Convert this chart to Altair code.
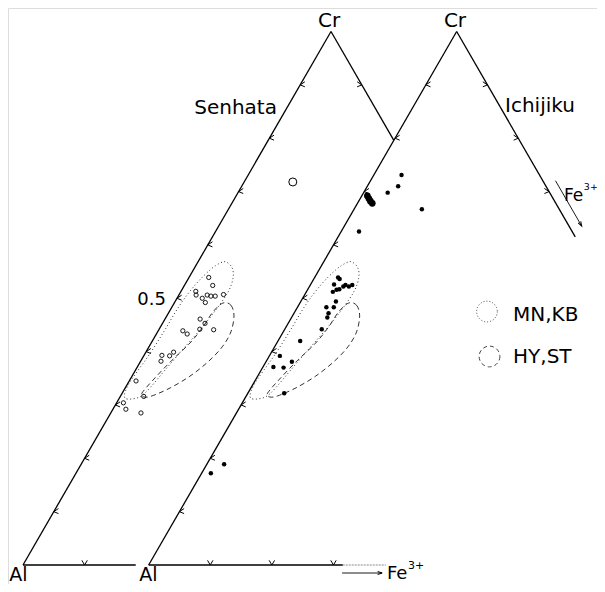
import altair as alt
import pandas as pd
import numpy as np

H = np.sqrt(3) / 2          # height of unit equilateral triangle
OFF = 0.204                 # shift of the Ichijiku triangle along Al-Fe

# ---------------- data (Cr and Fe3+ fractions) ----------------
# Senhata analyses (open circles)
sen_cr = [0.539, 0.524, 0.513, 0.506, 0.500, 0.506, 0.504, 0.504, 0.507, 0.492,
          0.461, 0.453, 0.442, 0.441, 0.439, 0.433, 0.399, 0.392, 0.393, 0.382,
          0.345, 0.316, 0.304, 0.292, 0.285]
sen_fe = [0.032, 0.046, 0.024, 0.028, 0.041, 0.046, 0.053, 0.060, 0.072, 0.050,
          0.057, 0.069, 0.066, 0.089, 0.040, 0.050, 0.045, 0.042, 0.029, 0.033,
          0.011, 0.038, 0.011, 0.021, 0.049]
sen_big_cr = [0.718]
sen_big_fe = [0.079]

# Ichijiku analyses (filled circles)
ichi_cr = [0.731, 0.710, 0.698, 0.667, 0.625, 0.539, 0.536, 0.526,
           0.512, 0.516, 0.517, 0.522, 0.525, 0.522, 0.525,
           0.494, 0.483, 0.483, 0.472, 0.464, 0.442,
           0.420, 0.392, 0.381, 0.371, 0.370, 0.322, 0.189, 0.172]
ichi_fe = [0.045, 0.050, 0.039, 0.110, 0.029, 0.038, 0.042, 0.038,
           0.043, 0.047, 0.051, 0.055, 0.057, 0.064, 0.068,
           0.057, 0.047, 0.059, 0.056, 0.058, 0.060,
           0.036, 0.017, 0.042, 0.017, 0.034, 0.059, 0.028, 0.015]
ichi_blob_cr = [0.692, 0.687, 0.682, 0.678]
ichi_blob_fe = [0.009, 0.014, 0.019, 0.024]

# Field outlines
mnkb_cr = [0.568, 0.557, 0.538, 0.512, 0.478, 0.441, 0.403, 0.366, 0.332, 0.315,
           0.311, 0.317, 0.337, 0.362, 0.397, 0.441, 0.487, 0.525, 0.553, 0.566]
mnkb_fe = [0.046, 0.061, 0.072, 0.077, 0.074, 0.067, 0.057, 0.048, 0.040, 0.032,
           0.015, 0.006, 0.002, 0.004, 0.008, 0.010, 0.011, 0.017, 0.027, 0.037]
hyst_cr = [0.491, 0.487, 0.467, 0.437, 0.409, 0.381, 0.354, 0.332, 0.317, 0.315,
           0.322, 0.351, 0.384, 0.416, 0.446, 0.474]
hyst_fe = [0.079, 0.094, 0.109, 0.119, 0.119, 0.110, 0.094, 0.073, 0.051, 0.039,
           0.032, 0.039, 0.050, 0.063, 0.069, 0.071]

# tick values
left_ticks = [0.1, 0.2, 0.3, 0.4, 0.5, 0.6, 0.7, 0.8, 0.9]
right_ticks_sen = [0.9]
right_ticks_ichi = [0.9, 0.8, 0.7]
base_ticks_sen = [0.1]
base_ticks_ichi = [0.1, 0.2, 0.3]


def tx(cr, fe, off):
    return off + fe + cr / 2.0


def ty(cr):
    return cr * H


# ---------------- scales ----------------
PX = 616.0
W, HT = 589, 576
xmin = -15 / PX
xmax = xmin + W / PX
ymax = 557 / PX
ymin = ymax - HT / PX
xs = alt.Scale(domain=[xmin, xmax], nice=False, zero=False)
ys = alt.Scale(domain=[ymin, ymax], nice=False, zero=False)
X = lambda f="x": alt.X(f"{f}:Q", scale=xs, axis=None)
Y = lambda f="y": alt.Y(f"{f}:Q", scale=ys, axis=None)

# ---------------- edges ----------------
edge_defs = [
    # off, cr1, fe1, cr2, fe2, kind
    (0.0, 0.0, 0.0, 1.0, 0.0, "main"),
    (0.0, 1.0, 0.0, 1 - OFF, OFF, "main"),
    (0.0, 0.0, 0.0, 0.0, 0.183, "main"),
    (OFF, 0.0, 0.0, 1.0, 0.0, "main"),
    (OFF, 1.0, 0.0, 0.615, 0.385, "main"),
    (OFF, 0.0, 0.0, 0.0, 0.315, "main"),
    (OFF, 0.0, 0.315, 0.0, 0.385, "faint"),
]
edges = pd.DataFrame([
    dict(x=tx(c1, f1, o), y=ty(c1), x2=tx(c2, f2, o), y2=ty(c2), kind=k)
    for o, c1, f1, c2, f2, k in edge_defs
])

# arrows
arrow_off = 11 / PX
nx, ny = H * arrow_off, 0.5 * arrow_off
a1 = (tx(0.71, 0.29, OFF) + nx, ty(0.71) + ny)
a2 = (tx(0.625, 0.375, OFF) + nx, ty(0.625) + ny)
AY = -0.013
arrows = pd.DataFrame([
    dict(x=0.518, y=AY, x2=0.583, y2=AY),
    dict(x=a1[0], y=a1[1], x2=a2[0], y2=a2[1]),
])
heads = pd.DataFrame([
    dict(x=0.583, y=AY, ang=0),
    dict(x=a2[0], y=a2[1], ang=60),
])

# ticks
lt = pd.DataFrame([dict(x=tx(c, 0, o), y=ty(c)) for o in (0.0, OFF) for c in left_ticks])
rt = pd.DataFrame([dict(x=tx(c, 1 - c, 0.0), y=ty(c)) for c in right_ticks_sen] +
                  [dict(x=tx(c, 1 - c, OFF), y=ty(c)) for c in right_ticks_ichi])
bt = pd.DataFrame([dict(x=tx(0, f, 0.0), y=0.0) for f in base_ticks_sen] +
                  [dict(x=tx(0, f, OFF), y=0.0) for f in base_ticks_ichi])

# outlines
def outline(crs, fes, off, name):
    return pd.DataFrame(dict(x=[tx(c, f, off) for c, f in zip(crs, fes)],
                             y=[ty(c) for c in crs],
                             i=list(range(len(crs))),
                             g=name))

dotted = pd.concat([outline(mnkb_cr, mnkb_fe, 0.0, "s"), outline(mnkb_cr, mnkb_fe, OFF, "i")])
dashed = pd.concat([outline(hyst_cr, hyst_fe, 0.0, "s"), outline(hyst_cr, hyst_fe, OFF, "i")])

sen = pd.DataFrame(dict(x=[tx(c, f, 0.0) for c, f in zip(sen_cr, sen_fe)], y=[ty(c) for c in sen_cr]))
senbig = pd.DataFrame(dict(x=[tx(c, f, 0.0) for c, f in zip(sen_big_cr, sen_big_fe)], y=[ty(c) for c in sen_big_cr]))
ichi = pd.DataFrame(dict(x=[tx(c, f, OFF) for c, f in zip(ichi_cr, ichi_fe)], y=[ty(c) for c in ichi_cr]))
blob = pd.DataFrame(dict(x=[tx(c, f, OFF) for c, f in zip(ichi_blob_cr, ichi_blob_fe)], y=[ty(c) for c in ichi_blob_cr]))

# ---------------- layers ----------------
FONT = "DejaVu Sans"

edge_main = alt.Chart(edges[edges.kind == "main"]).mark_rule(color="black", strokeWidth=1.3).encode(
    x=X(), y=Y(), x2="x2:Q", y2="y2:Q")
edge_faint = alt.Chart(edges[edges.kind == "faint"]).mark_rule(color="#888", strokeWidth=1, strokeDash=[2, 1]).encode(
    x=X(), y=Y(), x2="x2:Q", y2="y2:Q")
arrow_l = alt.Chart(arrows).mark_rule(color="black", strokeWidth=0.9).encode(
    x=X(), y=Y(), x2="x2:Q", y2="y2:Q")
arrow_h = alt.Chart(heads).mark_point(shape="M-1.5,-0.5L0,0L-1.5,0.5", filled=False, size=36,
                                      color="black", opacity=1, strokeWidth=1).encode(
    x=X(), y=Y(), angle=alt.Angle("ang:Q", scale=None))

tick_kw = dict(filled=False, size=60, color="black", opacity=1, strokeWidth=1)
lt_l = alt.Chart(lt).mark_point(shape="M1.2,-0.8L0,0L1.2,0.5", **tick_kw).encode(x=X(), y=Y())
rt_l = alt.Chart(rt).mark_point(shape="M-1.2,-0.8L0,0L-1.2,0.5", **tick_kw).encode(x=X(), y=Y())
bt_l = alt.Chart(bt).mark_point(shape="M-0.7,-1.2L0,0L0.7,-1.2", **tick_kw).encode(x=X(), y=Y())

dot_l = alt.Chart(dotted).mark_line(color="#333", strokeWidth=1, strokeDash=[1, 2.5],
                                    interpolate="cardinal-closed").encode(
    x=X(), y=Y(), order="i:Q", detail="g:N")
dash_l = alt.Chart(dashed).mark_line(color="#333", strokeWidth=1, strokeDash=[5, 3.5],
                                     interpolate="cardinal-closed").encode(
    x=X(), y=Y(), order="i:Q", detail="g:N")

sen_l = alt.Chart(sen).mark_point(shape="circle", filled=False, size=18, color="black",
                                  opacity=1, strokeWidth=0.9).encode(x=X(), y=Y())
senbig_l = alt.Chart(senbig).mark_point(shape="circle", filled=False, size=64, color="black",
                                        opacity=1, strokeWidth=1).encode(x=X(), y=Y())
ichi_l = alt.Chart(ichi).mark_point(shape="circle", filled=True, size=20, color="black",
                                    opacity=1).encode(x=X(), y=Y())
blob_l = alt.Chart(blob).mark_point(shape="circle", filled=True, size=45, color="black",
                                    opacity=1).encode(x=X(), y=Y())

# legend symbols
leg = pd.DataFrame([dict(x=0.7532, y=0.4115, k="d"), dict(x=0.7573, y=0.3385, k="h")])
leg_d = alt.Chart(leg[leg.k == "d"]).mark_point(shape="circle", filled=False, size=430, color="#444",
                                                 opacity=1, strokeWidth=1, strokeDash=[1, 2]).encode(x=X(), y=Y())
leg_h = alt.Chart(leg[leg.k == "h"]).mark_point(shape="circle", filled=False, size=430, color="#444",
                                                 opacity=1, strokeWidth=1, strokeDash=[4, 3]).encode(x=X(), y=Y())

# labels
lab_c = pd.DataFrame([
    dict(x=0.4968, y=0.883, t="Cr", s=20), dict(x=0.7013, y=0.883, t="Cr", s=20),
    dict(x=-0.0073, y=-0.0170, t="Al", s=19), dict(x=0.2037, y=-0.0170, t="Al", s=19),
])
lab_r = pd.DataFrame([
    dict(x=0.4123, y=0.742, t="Senhata", s=20), dict(x=0.2321, y=0.4302, t="0.5", s=18),
])
lab_l = pd.DataFrame([
    dict(x=0.5909, y=-0.0146, t="Fe", s=18), dict(x=0.6250, y=-0.0020, t="3+", s=11),
    dict(x=0.7825, y=0.745, t="Ichijiku", s=20),
    dict(x=0.7955, y=0.4058, t="MN,KB", s=20), dict(x=0.7955, y=0.3377, t="HY,ST", s=20),
    dict(x=0.8782, y=0.599, t="Fe", s=17), dict(x=0.9105, y=0.614, t="3+", s=9.5),
])


def texts(df, align):
    return alt.Chart(df).mark_text(align=align, baseline="middle", font=FONT, color="black").encode(
        x=X(), y=Y(), text="t:N", size=alt.Size("s:Q", scale=None))


chart = alt.layer(
    dot_l, dash_l, edge_faint, edge_main, arrow_l, arrow_h, lt_l, rt_l, bt_l,
    sen_l, senbig_l, ichi_l, blob_l, leg_d, leg_h,
    texts(lab_c, "center"), texts(lab_r, "right"), texts(lab_l, "left"),
).properties(
    width=W, height=HT, padding=0, autosize=alt.AutoSizeParams(type="none")
).configure_view(stroke=None).configure(background="white")

chart.save("out.html", embed_options={"renderer": "svg", "actions": False})
